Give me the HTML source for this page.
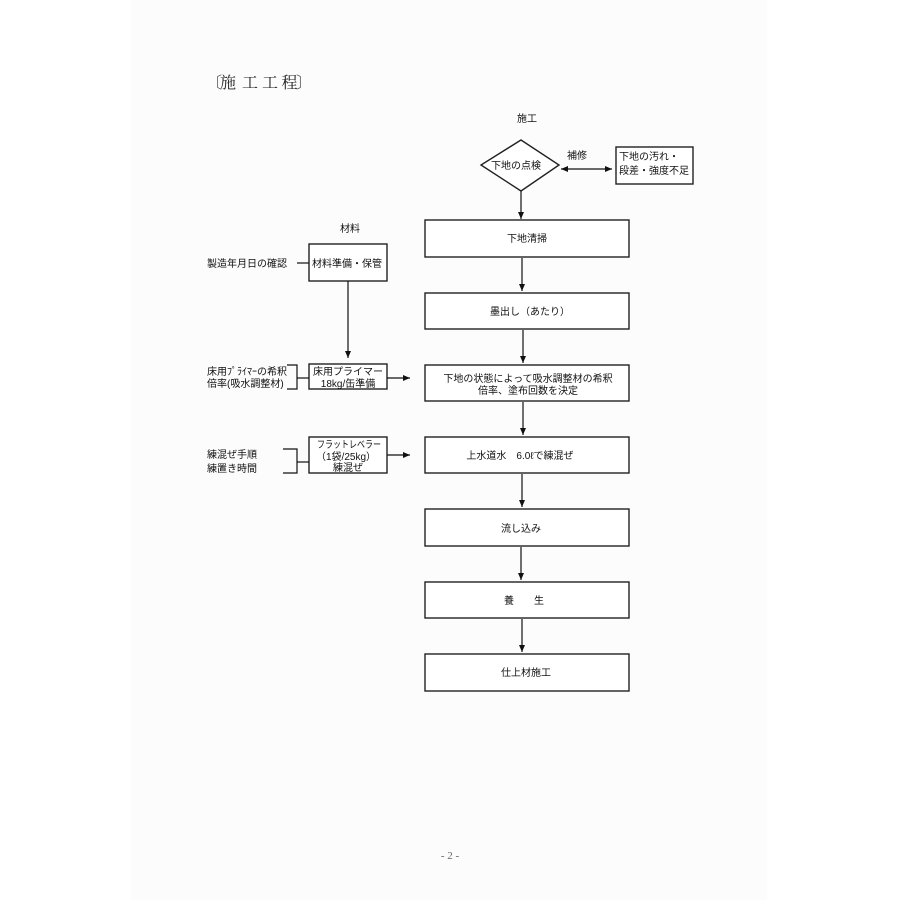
<!DOCTYPE html>
<html><head><meta charset="utf-8"><style>
html,body{margin:0;padding:0;background:#fff;}
svg{display:block;}
text{font-family:"Liberation Sans","Noto Sans CJK JP",sans-serif;font-size:10px;fill:#111;}
.t{font-family:"Liberation Serif","Noto Serif CJK SC",serif;font-size:16px;fill:#222;}
</style></head><body>
<svg width="900" height="900" viewBox="0 0 900 900" xmlns="http://www.w3.org/2000/svg">
<defs>
<marker id="ah" markerWidth="8" markerHeight="8" refX="7" refY="4" orient="auto" markerUnits="userSpaceOnUse">
<path d="M0,1 L7,4 L0,7 Z" fill="#111"/>
</marker>
<marker id="ahs" markerWidth="8" markerHeight="8" refX="0" refY="4" orient="auto" markerUnits="userSpaceOnUse">
<path d="M7,1 L0,4 L7,7 Z" fill="#111"/>
</marker>
</defs>
<rect x="0" y="0" width="900" height="900" fill="#ffffff"/>
<rect x="131" y="0" width="636" height="900" fill="#fcfcfc"/>

<text class="t" x="206" y="88">〔</text>
<text class="t" x="228" y="88" text-anchor="middle">施</text>
<text class="t" x="250" y="88" text-anchor="middle">工</text>
<text class="t" x="270" y="88" text-anchor="middle">工</text>
<text class="t" x="289.5" y="88" text-anchor="middle">程</text>
<text class="t" x="296" y="88">〕</text>

<g stroke="#222" stroke-width="1.4" fill="none">
<polygon points="521,140 559,165 521,191 481,165" fill="#fff"/>
<rect x="425" y="220" width="204" height="37" fill="#fff"/>
<rect x="425" y="293" width="204" height="36" fill="#fff"/>
<rect x="425" y="365" width="204" height="36" fill="#fff"/>
<rect x="425" y="437" width="204" height="36" fill="#fff"/>
<rect x="425" y="509" width="204" height="37" fill="#fff"/>
<rect x="425" y="582" width="204" height="36" fill="#fff"/>
<rect x="425" y="654" width="204" height="37" fill="#fff"/>
<rect x="616" y="147" width="77" height="37" fill="#fff"/>
<rect x="309" y="244" width="78" height="37" fill="#fff"/>
<rect x="309" y="364" width="78" height="25" fill="#fff"/>
<rect x="309" y="437" width="78" height="36" fill="#fff"/>
</g>

<g stroke="#111" stroke-width="1.2" fill="none">
<line x1="521" y1="191" x2="521" y2="219" marker-end="url(#ah)"/>
<line x1="522" y1="258" x2="522" y2="291" marker-end="url(#ah)"/>
<line x1="523" y1="330" x2="523" y2="363" marker-end="url(#ah)"/>
<line x1="523" y1="402" x2="523" y2="435" marker-end="url(#ah)"/>
<line x1="522" y1="474" x2="522" y2="507" marker-end="url(#ah)"/>
<line x1="521" y1="547" x2="521" y2="580" marker-end="url(#ah)"/>
<line x1="522" y1="619" x2="522" y2="652" marker-end="url(#ah)"/>
<line x1="561" y1="169" x2="612" y2="169" marker-start="url(#ahs)" marker-end="url(#ah)"/>
<line x1="297" y1="263" x2="309" y2="263"/>
<line x1="348" y1="281" x2="348" y2="358" marker-end="url(#ah)"/>
<line x1="387" y1="378" x2="410" y2="378" marker-end="url(#ah)"/>
<line x1="387" y1="455" x2="410" y2="455" marker-end="url(#ah)"/>
<polyline points="287,365 297,365 297,389 287,389"/>
<line x1="297" y1="378" x2="309" y2="378"/>
<polyline points="283,449 297,449 297,473 283,473"/>
<line x1="297" y1="462" x2="309" y2="462"/>
</g>

<text x="527" y="122" text-anchor="middle">施工</text>
<text x="516" y="169" text-anchor="middle">下地の点検</text>
<text x="577" y="159" text-anchor="middle">補修</text>
<text x="619" y="160">下地の汚れ・</text>
<text x="619" y="174">段差・強度不足</text>

<text x="527" y="242" text-anchor="middle">下地清掃</text>
<text x="530" y="315" text-anchor="middle">墨出し（あたり）</text>
<text x="528" y="382" text-anchor="middle">下地の状態によって吸水調整材の希釈</text>
<text x="528" y="394" text-anchor="middle">倍率、塗布回数を決定</text>
<text x="520" y="459" text-anchor="middle">上水道水　6.0ℓで練混ぜ</text>
<text x="521" y="532" text-anchor="middle">流し込み</text>
<text x="524" y="604" text-anchor="middle">養　　生</text>
<text x="526" y="676" text-anchor="middle">仕上材施工</text>

<text x="350" y="232" text-anchor="middle">材料</text>
<text x="207" y="267">製造年月日の確認</text>
<text x="312" y="267">材料準備・保管</text>

<text x="348" y="375" text-anchor="middle" textLength="70" lengthAdjust="spacingAndGlyphs">床用プライマー</text>
<text x="348" y="387" text-anchor="middle">18kg/缶準備</text>
<text x="207" y="375" textLength="80" lengthAdjust="spacingAndGlyphs">床用ﾌﾟﾗｲﾏｰの希釈</text>
<text x="207" y="387">倍率(吸水調整材)</text>

<text x="317" y="448" textLength="64" lengthAdjust="spacingAndGlyphs">フラットレベラー</text>
<text x="346" y="460" text-anchor="middle">（1袋/25kg）</text>
<text x="348" y="471" text-anchor="middle">練混ぜ</text>
<text x="207" y="458">練混ぜ手順</text>
<text x="207" y="472">練置き時間</text>

<text x="450" y="859" text-anchor="middle" style="font-family:'Liberation Serif','Noto Serif CJK SC',serif;font-size:11px;fill:#666;">- 2 -</text>
</svg>
</body></html>
